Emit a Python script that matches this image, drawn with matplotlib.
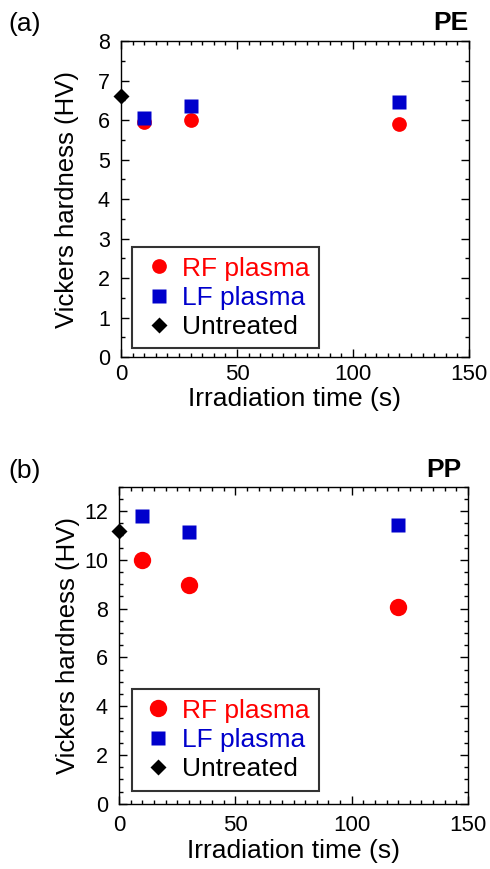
import matplotlib
matplotlib.use("Agg")
import matplotlib.pyplot as plt
from matplotlib.ticker import MultipleLocator

plt.rcParams['font.family'] = ['Liberation Sans', 'DejaVu Sans']

# Data
time_rf = [10, 30, 120]
time_lf = [10, 30, 120]
time_un = [0]

pe_rf = [5.95, 6.0, 5.9]
pe_lf = [6.05, 6.35, 6.45]
pe_un = [6.6]

pp_rf = [10.0, 8.97, 8.07]
pp_lf = [11.8, 11.15, 11.42]
pp_un = [11.2]

labels = ["RF plasma", "LF plasma", "Untreated"]
colors = ["#FF0000", "#0000CC", "#000000"]
xlabel = "Irradiation time (s)"
ylabel = "Vickers hardness (HV)"

fig = plt.figure(figsize=(4.9, 8.69), dpi=100)
ax1 = fig.add_axes([0.247, 0.589, 0.710, 0.3636])
ax2 = fig.add_axes([0.243, 0.075, 0.712, 0.365])


def draw(ax, rf, lf, un, ylim, ymaj, ymin, ms, legpos, xpad, ylab_x, xlab_y):
    ax.plot(time_rf, rf, 'o', color=colors[0], ms=ms[0], mec='none', label=labels[0], clip_on=False, zorder=3)
    ax.plot(time_lf, lf, 's', color=colors[1], ms=ms[1], mec='none', label=labels[1], clip_on=False, zorder=4)
    ax.plot(time_un, un, 'D', color=colors[2], ms=ms[2], mec='none', label=labels[2], clip_on=False, zorder=5)
    ax.set_xlim(0, 150)
    ax.set_ylim(*ylim)
    ax.xaxis.set_major_locator(MultipleLocator(50))
    ax.xaxis.set_minor_locator(MultipleLocator(5))
    ax.yaxis.set_major_locator(MultipleLocator(ymaj))
    ax.yaxis.set_minor_locator(MultipleLocator(ymin))
    ax.tick_params(which='both', direction='in', top=True, right=True, width=1.0)
    ax.tick_params(which='major', length=5.5)
    ax.tick_params(which='minor', length=3)
    ax.tick_params(axis='x', pad=xpad, labelsize=16)
    ax.tick_params(axis='y', pad=8, labelsize=15.5)
    for s in ax.spines.values():
        s.set_linewidth(1.0)
    ax.set_xlabel(xlabel, fontsize=19)
    ax.set_ylabel(ylabel, fontsize=18.5)
    ax.yaxis.set_label_coords(ylab_x, 0.5)
    ax.xaxis.set_label_coords(0.5, xlab_y)
    leg = ax.legend(loc='lower left', bbox_to_anchor=legpos, borderaxespad=0,
                    fontsize=19, frameon=True, fancybox=False, edgecolor='black',
                    handletextpad=0.25, handlelength=1.3, labelspacing=0.2,
                    borderpad=0.35, markerscale=1.0)
    leg.get_frame().set_linewidth(1.5)
    for t, c in zip(leg.get_texts(), colors):
        t.set_color(c)
    return ax


draw(ax1, pe_rf, pe_lf, pe_un, (0, 8), 1, 0.5, (10.6, 9.6, 8.1), (0.032, 0.028), 5, -0.12, -0.095)
draw(ax2, pp_rf, pp_lf, pp_un, (0, 13), 2, 0.5, (12.5, 10.0, 8.5), (0.037, 0.042), 8, -0.113, -0.11)

fig.text(8 / 490, 1 - 24 / 869, "(a)", fontsize=19, va='center', ha='left')
fig.text(468 / 490, 1 - 22.5 / 869, "PE", fontsize=19, fontweight='bold', va='center', ha='right')
fig.text(8 / 490, 1 - 471 / 869, "(b)", fontsize=19, va='center', ha='left')
fig.text(461 / 490, 1 - 470 / 869, "PP", fontsize=19, fontweight='bold', va='center', ha='right')

fig.savefig("out.png", dpi=100)
